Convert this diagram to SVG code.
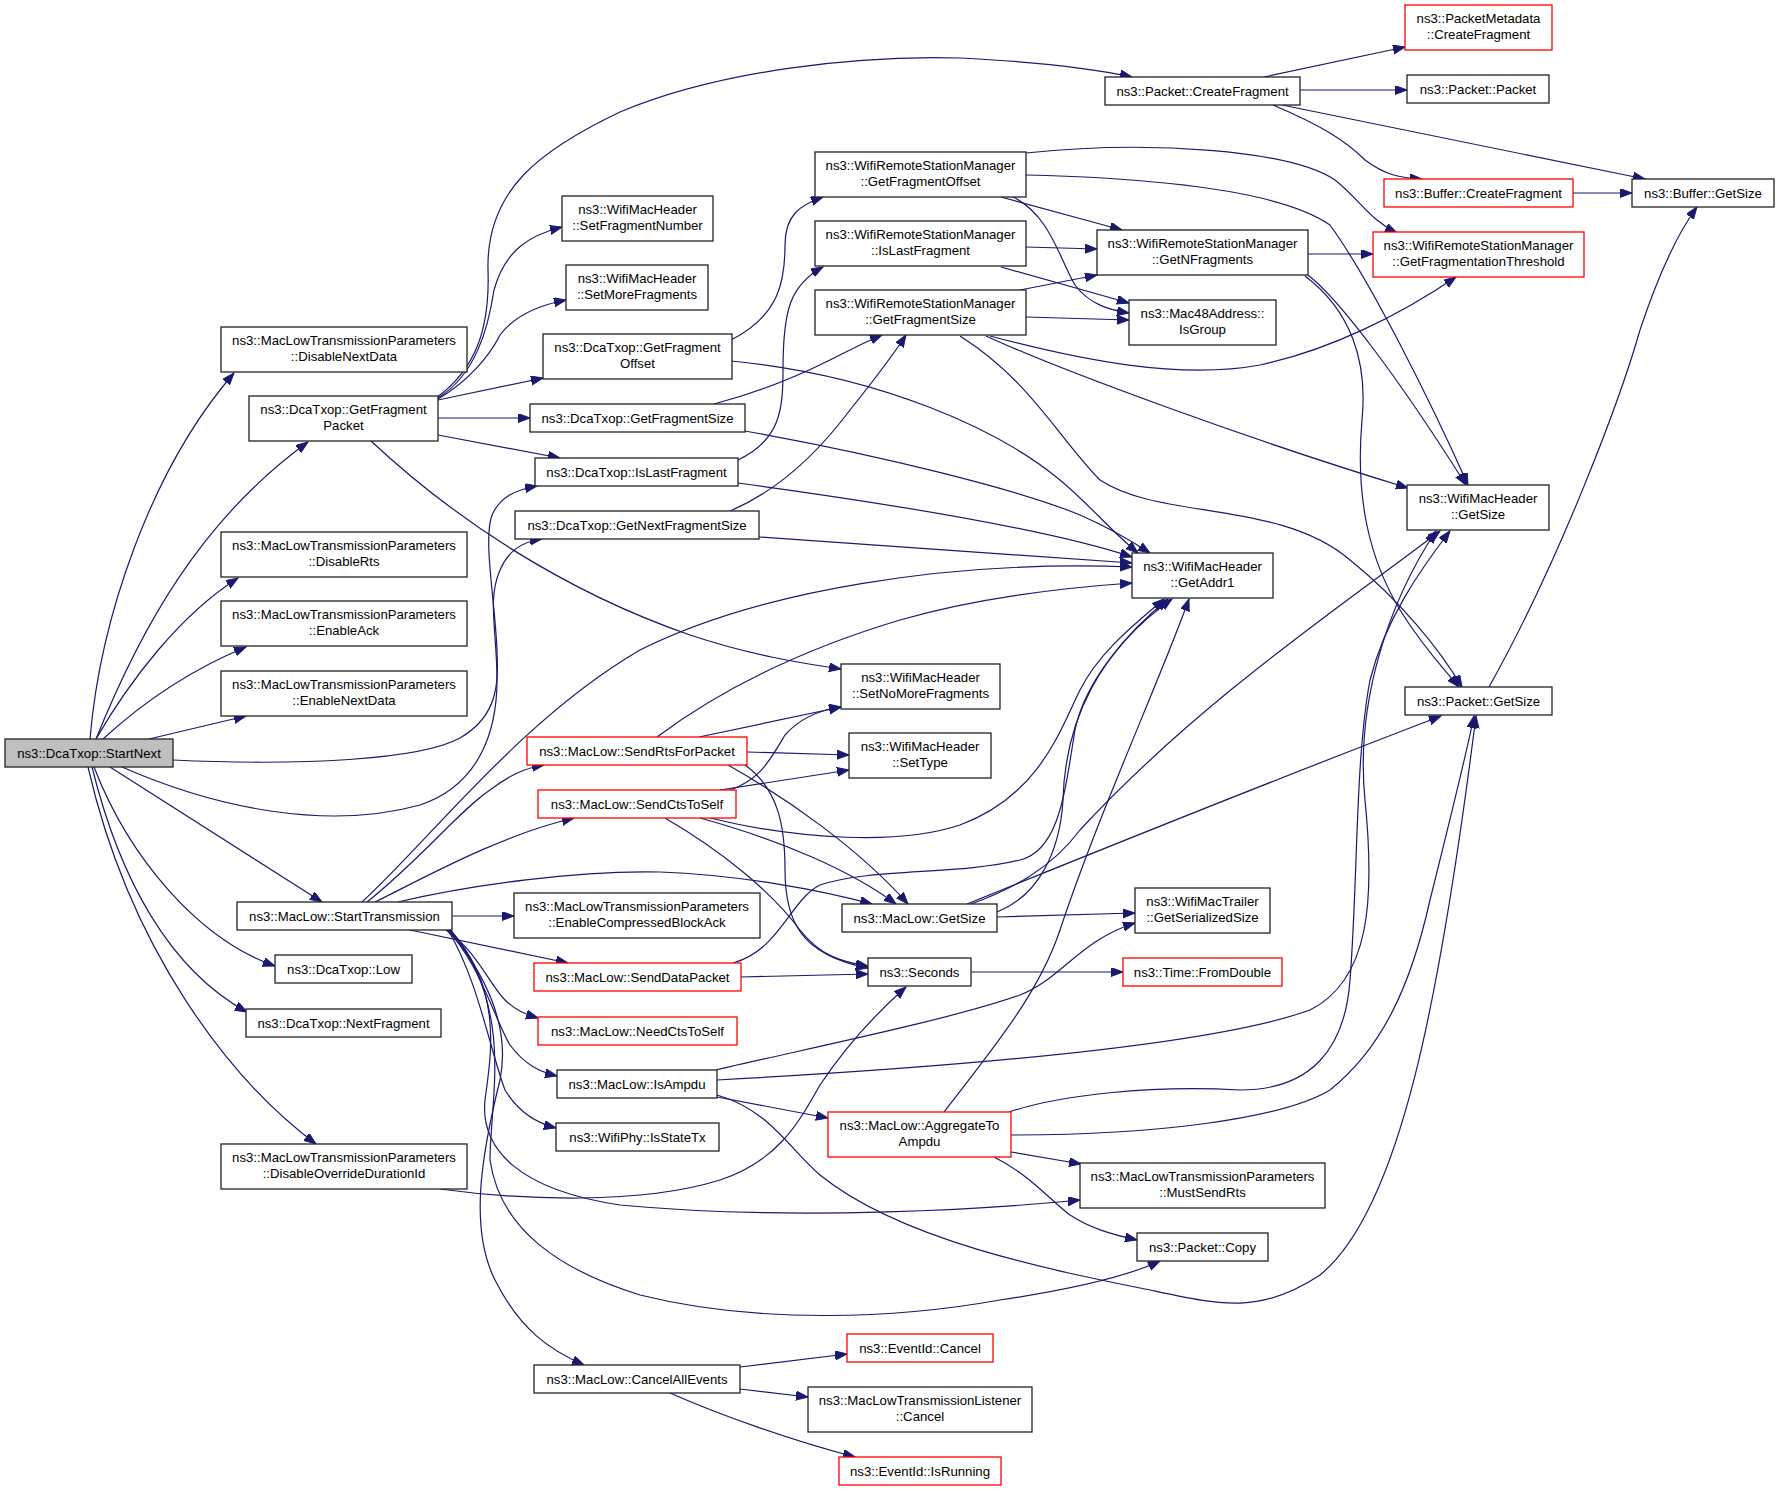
<svg xmlns="http://www.w3.org/2000/svg" width="1779" height="1491" viewBox="0 0 1779 1491">
<style>
.n rect{fill:#fff;stroke:#222;stroke-width:1.3}
.n.r rect{stroke:#f00}
.n.g rect{fill:#bfbfbf}
.n text{font-family:"Liberation Sans",Arial,sans-serif;font-size:13.2px;text-anchor:middle;fill:#000}
#edges path{fill:none;stroke:#191970;stroke-width:1.2;marker-end:url(#a)}
</style>
<defs>
<marker id="a" markerWidth="14" markerHeight="10" refX="12" refY="4.5" orient="auto" markerUnits="userSpaceOnUse"><path d="M0,0 L12,4.5 L0,9 z" fill="#191970" stroke="#191970" stroke-width="1"/></marker>
</defs>
<rect width="1779" height="1491" fill="#fff"/>
<g id="edges">
<path d="M90,739 C 100,620 150,470 234,373"/>
<path d="M96,739 C 140,630 200,520 308,442"/>
<path d="M96,739 C 130,680 180,615 238,578"/>
<path d="M103,739 C 140,705 190,670 246,647"/>
<path d="M149,739 L246,716"/>
<path d="M173,760 C 300,766 420,760 460,738 C 500,715 498,680 497,650 C 495,600 483,540 492,515 C 500,497 515,490 537,486"/>
<path d="M122,767 C 220,810 330,830 420,805 C 480,785 497,730 497,680 C 497,630 487,600 500,570 C 508,552 520,542 542,539"/>
<path d="M110,767 L322,902"/>
<path d="M94,767 C 130,860 200,940 275,966"/>
<path d="M92,767 C 120,880 170,970 247,1012"/>
<path d="M88,767 C 130,950 230,1080 316,1144"/>
<path d="M436,398 C 475,370 490,330 488,270 C 486,190 540,150 620,112 C 720,70 860,55 960,58 C 1040,62 1100,70 1132,77"/>
<path d="M438,398 C 475,375 488,330 494,290 C 505,250 530,235 562,227"/>
<path d="M438,399 C 470,380 490,355 500,335 C 515,315 540,305 566,300"/>
<path d="M438,400 L543,378"/>
<path d="M438,418 L530,418"/>
<path d="M438,435 L560,458"/>
<path d="M371,441 C 450,515 560,590 690,635 C 750,655 800,663 841,669"/>
<path d="M731,340 C 780,315 785,280 785,245 C 785,215 800,205 823,197"/>
<path d="M731,361 C 880,375 1000,430 1060,480 C 1090,505 1110,530 1138,553"/>
<path d="M745,431 C 880,455 1020,490 1080,515 C 1110,528 1130,540 1150,553"/>
<path d="M738,483 C 900,505 1050,530 1132,557"/>
<path d="M714,404 C 760,392 800,375 830,360 C 850,350 865,342 882,335"/>
<path d="M738,460 C 780,440 783,410 783,370 C 783,310 790,285 823,267"/>
<path d="M730,511 C 780,490 820,450 850,410 C 870,385 890,360 906,335"/>
<path d="M759,537 L1132,563"/>
<path d="M1026,153 C 1150,140 1290,150 1335,180 C 1360,200 1370,220 1397,233"/>
<path d="M1026,175 C 1150,178 1280,190 1330,225 C 1370,280 1430,400 1468,485"/>
<path d="M1001,197 L1122,230"/>
<path d="M1013,197 C 1050,215 1060,260 1075,285 C 1090,305 1110,310 1129,313"/>
<path d="M1026,247 L1097,249"/>
<path d="M1001,267 L1129,303"/>
<path d="M1020,290 L1097,275"/>
<path d="M1026,317 L1129,320"/>
<path d="M990,336 C 1080,360 1180,380 1260,365 C 1330,350 1400,315 1456,277"/>
<path d="M986,336 C 1060,370 1250,440 1408,488"/>
<path d="M960,336 C 1030,380 1060,440 1100,480 C 1160,520 1280,500 1350,560 C 1400,600 1440,650 1462,687"/>
<path d="M1308,254 L1373,254"/>
<path d="M1308,275 C 1340,300 1400,380 1466,485"/>
<path d="M1305,276 C 1350,310 1368,360 1362,420 C 1355,500 1370,560 1400,610 C 1425,650 1445,670 1459,687"/>
<path d="M1264,77 L1405,47"/>
<path d="M1300,90 L1407,90"/>
<path d="M1273,105 C 1320,125 1345,140 1365,160 C 1385,175 1400,178 1422,179"/>
<path d="M1282,105 L1645,179"/>
<path d="M1573,193 L1632,193"/>
<path d="M1489,687 C 1560,560 1620,400 1640,330 C 1660,270 1680,230 1697,207"/>
<path d="M367,902 C 420,860 460,810 490,790 C 510,775 525,768 544,765"/>
<path d="M375,902 C 420,880 500,835 574,818"/>
<path d="M362,902 C 430,840 520,720 640,650 C 760,590 950,560 1132,567"/>
<path d="M398,902 C 470,885 580,870 660,872 C 740,875 820,890 872,904"/>
<path d="M452,916 L514,916"/>
<path d="M410,930 L568,963"/>
<path d="M446,930 C 476,950 490,985 505,1000 C 515,1010 525,1014 538,1018"/>
<path d="M447,930 C 478,960 495,1020 510,1045 C 525,1065 540,1072 557,1076"/>
<path d="M448,930 C 478,980 490,1050 505,1090 C 520,1115 540,1124 556,1128"/>
<path d="M449,930 C 490,980 510,1030 500,1080 C 480,1160 470,1230 495,1280 C 520,1330 550,1350 584,1365"/>
<path d="M450,930 C 505,990 490,1060 485,1100 C 480,1150 520,1190 620,1205 C 800,1222 1000,1208 1080,1200"/>
<path d="M451,930 C 515,1010 490,1100 490,1160 C 500,1230 560,1270 640,1295 C 760,1325 900,1318 1000,1300 C 1080,1288 1130,1275 1160,1261"/>
<path d="M657,737 C 720,690 800,650 900,620 C 980,597 1060,588 1132,583"/>
<path d="M699,737 L841,707"/>
<path d="M747,752 L849,755"/>
<path d="M728,765 C 790,800 860,850 908,904"/>
<path d="M745,765 C 780,790 785,830 785,870 C 785,920 800,955 868,968"/>
<path d="M665,818 C 720,850 770,890 800,930 C 820,955 840,962 868,966"/>
<path d="M730,790 C 760,780 770,760 785,735 C 800,718 820,710 841,707"/>
<path d="M720,790 L849,770"/>
<path d="M700,818 C 780,840 850,870 896,904"/>
<path d="M710,818 C 800,840 900,845 960,825 C 1040,795 1060,730 1080,690 C 1100,650 1140,620 1164,599"/>
<path d="M741,977 L868,974"/>
<path d="M733,963 C 780,950 790,900 820,885 C 870,868 960,875 1020,860 C 1060,850 1065,790 1075,730 C 1085,680 1130,630 1168,599"/>
<path d="M997,912 C 1040,895 1060,850 1063,800 C 1065,720 1100,650 1172,599"/>
<path d="M971,904 C 1010,890 1050,870 1080,830 C 1200,700 1350,600 1440,531"/>
<path d="M967,904 C 1100,850 1300,770 1441,716"/>
<path d="M997,917 L1135,913"/>
<path d="M971,972 L1123,972"/>
<path d="M716,1070 C 800,1050 950,1020 1020,995 C 1060,980 1080,940 1135,923"/>
<path d="M717,1080 C 900,1070 1200,1050 1310,1010 C 1370,980 1375,900 1365,800 C 1355,700 1390,600 1436,531"/>
<path d="M717,1097 L828,1118"/>
<path d="M717,1095 C 770,1110 790,1150 820,1175 C 900,1240 1050,1270 1150,1290 C 1220,1305 1260,1315 1320,1275 C 1400,1210 1440,1000 1476,716"/>
<path d="M944,1112 C 1000,1040 1040,990 1060,930 C 1100,810 1160,680 1189,599"/>
<path d="M1009,1112 C 1060,1095 1150,1085 1240,1090 C 1310,1090 1345,1050 1350,980 C 1358,880 1355,760 1370,680 C 1385,620 1420,570 1450,531"/>
<path d="M1011,1135 C 1150,1135 1280,1120 1330,1090 C 1380,1050 1410,990 1430,900 C 1450,820 1465,760 1474,716"/>
<path d="M1011,1152 L1081,1164"/>
<path d="M994,1157 C 1030,1175 1050,1200 1070,1215 C 1090,1228 1110,1234 1137,1240"/>
<path d="M740,1367 L847,1354"/>
<path d="M740,1389 L808,1397"/>
<path d="M670,1393 C 720,1415 790,1440 855,1457"/>
<path d="M440,1189 C 520,1200 640,1205 720,1180 C 780,1160 800,1120 820,1085 C 850,1040 880,1010 906,987"/>
</g>
<g id="n_startnext" class="n g"><rect x="5" y="739" width="168" height="28"/><text x="89" y="757.7">ns3::DcaTxop::StartNext</text></g>
<g id="n_disablenextdata" class="n"><rect x="221" y="327" width="246" height="45"/><text x="344" y="344.5">ns3::MacLowTransmissionParameters</text><text x="344" y="361">::DisableNextData</text></g>
<g id="n_getfragmentpacket" class="n"><rect x="249" y="396" width="189" height="45"/><text x="343.5" y="413.5">ns3::DcaTxop::GetFragment</text><text x="343.5" y="430">Packet</text></g>
<g id="n_disablerts" class="n"><rect x="221" y="532" width="246" height="45"/><text x="344" y="549.5">ns3::MacLowTransmissionParameters</text><text x="344" y="566">::DisableRts</text></g>
<g id="n_enableack" class="n"><rect x="221" y="601" width="246" height="45"/><text x="344" y="618.5">ns3::MacLowTransmissionParameters</text><text x="344" y="635">::EnableAck</text></g>
<g id="n_enablenextdata" class="n"><rect x="221" y="671" width="246" height="45"/><text x="344" y="688.5">ns3::MacLowTransmissionParameters</text><text x="344" y="705">::EnableNextData</text></g>
<g id="n_starttransmission" class="n"><rect x="237" y="902" width="215" height="28"/><text x="344.5" y="920.7">ns3::MacLow::StartTransmission</text></g>
<g id="n_low" class="n"><rect x="275" y="955" width="137" height="28"/><text x="343.5" y="973.7">ns3::DcaTxop::Low</text></g>
<g id="n_nextfragment" class="n"><rect x="246" y="1009" width="195" height="28"/><text x="343.5" y="1027.7">ns3::DcaTxop::NextFragment</text></g>
<g id="n_disableoverride" class="n"><rect x="221" y="1144" width="246" height="45"/><text x="344" y="1161.5">ns3::MacLowTransmissionParameters</text><text x="344" y="1178">::DisableOverrideDurationId</text></g>
<g id="n_setfragmentnumber" class="n"><rect x="562" y="196" width="151" height="45"/><text x="637.5" y="213.5">ns3::WifiMacHeader</text><text x="637.5" y="230">::SetFragmentNumber</text></g>
<g id="n_setmorefragments" class="n"><rect x="566" y="265" width="142" height="45"/><text x="637" y="282.5">ns3::WifiMacHeader</text><text x="637" y="299">::SetMoreFragments</text></g>
<g id="n_dca_gfo" class="n"><rect x="543" y="334" width="189" height="45"/><text x="637.5" y="351.5">ns3::DcaTxop::GetFragment</text><text x="637.5" y="368">Offset</text></g>
<g id="n_dca_gfs" class="n"><rect x="530" y="404" width="215" height="28"/><text x="637.5" y="422.7">ns3::DcaTxop::GetFragmentSize</text></g>
<g id="n_dca_ilf" class="n"><rect x="535" y="458" width="203" height="28"/><text x="636.5" y="476.7">ns3::DcaTxop::IsLastFragment</text></g>
<g id="n_getnextfragmentsize" class="n"><rect x="515" y="511" width="244" height="28"/><text x="637" y="529.7">ns3::DcaTxop::GetNextFragmentSize</text></g>
<g id="n_sendrts" class="n r"><rect x="527" y="737" width="220" height="28"/><text x="637" y="755.7">ns3::MacLow::SendRtsForPacket</text></g>
<g id="n_sendcts" class="n r"><rect x="538" y="790" width="198" height="28"/><text x="637" y="808.7">ns3::MacLow::SendCtsToSelf</text></g>
<g id="n_enablecba" class="n"><rect x="514" y="893" width="246" height="45"/><text x="637" y="910.5">ns3::MacLowTransmissionParameters</text><text x="637" y="927">::EnableCompressedBlockAck</text></g>
<g id="n_senddata" class="n r"><rect x="534" y="963" width="207" height="28"/><text x="637.5" y="981.7">ns3::MacLow::SendDataPacket</text></g>
<g id="n_needcts" class="n r"><rect x="538" y="1017" width="199" height="28"/><text x="637.5" y="1035.7">ns3::MacLow::NeedCtsToSelf</text></g>
<g id="n_isampdu" class="n"><rect x="557" y="1070" width="160" height="28"/><text x="637" y="1088.7">ns3::MacLow::IsAmpdu</text></g>
<g id="n_isstatetx" class="n"><rect x="556" y="1123" width="163" height="28"/><text x="637.5" y="1141.7">ns3::WifiPhy::IsStateTx</text></g>
<g id="n_cancelall" class="n"><rect x="534" y="1365" width="206" height="28"/><text x="637" y="1383.7">ns3::MacLow::CancelAllEvents</text></g>
<g id="n_wrsm_gfo" class="n"><rect x="815" y="152" width="211" height="45"/><text x="920.5" y="169.5">ns3::WifiRemoteStationManager</text><text x="920.5" y="186">::GetFragmentOffset</text></g>
<g id="n_wrsm_ilf" class="n"><rect x="815" y="221" width="211" height="45"/><text x="920.5" y="238.5">ns3::WifiRemoteStationManager</text><text x="920.5" y="255">::IsLastFragment</text></g>
<g id="n_wrsm_gfs" class="n"><rect x="815" y="290" width="211" height="45"/><text x="920.5" y="307.5">ns3::WifiRemoteStationManager</text><text x="920.5" y="324">::GetFragmentSize</text></g>
<g id="n_setnomore" class="n"><rect x="841" y="664" width="159" height="45"/><text x="920.5" y="681.5">ns3::WifiMacHeader</text><text x="920.5" y="698">::SetNoMoreFragments</text></g>
<g id="n_settype" class="n"><rect x="849" y="733" width="142" height="45"/><text x="920" y="750.5">ns3::WifiMacHeader</text><text x="920" y="767">::SetType</text></g>
<g id="n_maclow_getsize" class="n"><rect x="842" y="904" width="155" height="28"/><text x="919.5" y="922.7">ns3::MacLow::GetSize</text></g>
<g id="n_seconds" class="n"><rect x="868" y="958" width="103" height="28"/><text x="919.5" y="976.7">ns3::Seconds</text></g>
<g id="n_aggregate" class="n r"><rect x="828" y="1112" width="183" height="45"/><text x="919.5" y="1129.5">ns3::MacLow::AggregateTo</text><text x="919.5" y="1146">Ampdu</text></g>
<g id="n_eventcancel" class="n r"><rect x="847" y="1334" width="146" height="28"/><text x="920" y="1352.7">ns3::EventId::Cancel</text></g>
<g id="n_listenercancel" class="n"><rect x="808" y="1387" width="224" height="45"/><text x="920" y="1404.5">ns3::MacLowTransmissionListener</text><text x="920" y="1421">::Cancel</text></g>
<g id="n_isrunning" class="n r"><rect x="839" y="1457" width="162" height="28"/><text x="920" y="1475.7">ns3::EventId::IsRunning</text></g>
<g id="n_pkt_createfrag" class="n"><rect x="1105" y="77" width="195" height="28"/><text x="1202.5" y="95.7">ns3::Packet::CreateFragment</text></g>
<g id="n_getnfrag" class="n"><rect x="1097" y="230" width="211" height="45"/><text x="1202.5" y="247.5">ns3::WifiRemoteStationManager</text><text x="1202.5" y="264">::GetNFragments</text></g>
<g id="n_isgroup" class="n"><rect x="1129" y="300" width="147" height="45"/><text x="1202.5" y="317.5">ns3::Mac48Address::</text><text x="1202.5" y="334">IsGroup</text></g>
<g id="n_getaddr1" class="n"><rect x="1132" y="553" width="141" height="45"/><text x="1202.5" y="570.5">ns3::WifiMacHeader</text><text x="1202.5" y="587">::GetAddr1</text></g>
<g id="n_getserialized" class="n"><rect x="1135" y="888" width="135" height="45"/><text x="1202.5" y="905.5">ns3::WifiMacTrailer</text><text x="1202.5" y="922">::GetSerializedSize</text></g>
<g id="n_fromdouble" class="n r"><rect x="1123" y="958" width="159" height="28"/><text x="1202.5" y="976.7">ns3::Time::FromDouble</text></g>
<g id="n_mustsendrts" class="n"><rect x="1080" y="1163" width="245" height="45"/><text x="1202.5" y="1180.5">ns3::MacLowTransmissionParameters</text><text x="1202.5" y="1197">::MustSendRts</text></g>
<g id="n_pkt_copy" class="n"><rect x="1137" y="1233" width="131" height="28"/><text x="1202.5" y="1251.7">ns3::Packet::Copy</text></g>
<g id="n_pmd_createfrag" class="n r"><rect x="1405" y="5" width="147" height="45"/><text x="1478.5" y="22.5">ns3::PacketMetadata</text><text x="1478.5" y="39">::CreateFragment</text></g>
<g id="n_pkt_packet" class="n"><rect x="1407" y="75" width="142" height="28"/><text x="1478" y="93.7">ns3::Packet::Packet</text></g>
<g id="n_buf_createfrag" class="n r"><rect x="1384" y="179" width="189" height="28"/><text x="1478.5" y="197.7">ns3::Buffer::CreateFragment</text></g>
<g id="n_fragthreshold" class="n r"><rect x="1373" y="232" width="211" height="45"/><text x="1478.5" y="249.5">ns3::WifiRemoteStationManager</text><text x="1478.5" y="266">::GetFragmentationThreshold</text></g>
<g id="n_wmh_getsize" class="n"><rect x="1407" y="485" width="142" height="45"/><text x="1478" y="502.5">ns3::WifiMacHeader</text><text x="1478" y="519">::GetSize</text></g>
<g id="n_pkt_getsize" class="n"><rect x="1405" y="687" width="147" height="28"/><text x="1478.5" y="705.7">ns3::Packet::GetSize</text></g>
<g id="n_buf_getsize" class="n"><rect x="1632" y="179" width="142" height="28"/><text x="1703" y="197.7">ns3::Buffer::GetSize</text></g>
</svg>
